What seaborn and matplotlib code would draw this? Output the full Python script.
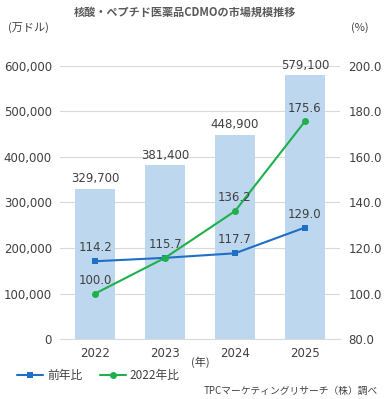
import matplotlib
matplotlib.use("Agg")
import matplotlib.pyplot as plt
import seaborn as sns
import pandas as pd

years = ["2022", "2023", "2024", "2025"]
market = [329700, 381400, 448900, 579100]
yoy = [114.2, 115.7, 117.7, 129.0]
vs2022 = [100.0, 115.7, 136.2, 175.6]

sns.set_style("white")
plt.rcParams['font.family'] = ['Noto Sans CJK JP', 'DejaVu Sans']

df = pd.DataFrame({"year": years, "market": market, "yoy": yoy, "vs2022": vs2022})

fig = plt.figure(figsize=(3.88, 3.99), dpi=100)
ax = fig.add_axes([0.155, 0.150, 0.721, 0.685])

sns.barplot(data=df, x="year", y="market", color="#bdd7ee", width=0.57,
            saturation=1, ax=ax, zorder=2, linewidth=0)
ax.set_ylim(0, 600000)
ax.set_yticks(range(0, 600001, 100000))
ax.set_yticklabels([f"{v:,}" for v in range(0, 600001, 100000)], family="DejaVu Sans")
ax.yaxis.grid(True, color="#d9d9d9", lw=0.8, zorder=0)
ax.set_axisbelow(True)
ax.set_xlabel("")
ax.set_ylabel("")
ax.tick_params(axis="both", length=0, labelsize=8.5, colors="#404040", pad=6)
for lab in ax.get_xticklabels():
    lab.set_family("DejaVu Sans")
for s in ["top", "right", "left"]:
    ax.spines[s].set_visible(False)
ax.spines["bottom"].set_color("#d9d9d9")
for i, v in enumerate(market):
    ax.text(i, v + 8000, f"{v:,}", ha="center", va="bottom", fontsize=8.5,
            color="#404040", family="DejaVu Sans")

ax2 = ax.twinx()
sns.lineplot(data=df, x="year", y="yoy", color="#1f6fc5", marker="s", markersize=5,
             markeredgewidth=0, lw=1.5, ax=ax2, label="前年比", zorder=3)
sns.lineplot(data=df, x="year", y="vs2022", color="#1db04b", marker="o", markersize=5,
             markeredgewidth=0, lw=1.5, ax=ax2, label="2022年比", zorder=3)
ax2.set_ylim(80, 200)
ax2.set_yticks(range(80, 201, 20))
ax2.set_yticklabels([f"{v:.1f}" for v in range(80, 201, 20)], family="DejaVu Sans")
ax2.set_ylabel("")
ax2.set_xlabel("")
ax2.tick_params(axis="y", length=0, labelsize=8.5, colors="#404040", pad=6)
for s in ["top", "right", "left", "bottom"]:
    ax2.spines[s].set_visible(False)
for i, v in enumerate(yoy):
    ax2.text(i, v + 3, f"{v:.1f}", ha="center", va="bottom", fontsize=8.5,
             color="#404040", family="DejaVu Sans")
for i, v in enumerate(vs2022):
    if i == 1:
        continue
    ax2.text(i, v + 3, f"{v:.1f}", ha="center", va="bottom", fontsize=8.5,
             color="#404040", family="DejaVu Sans")
ax.set_xlim(-0.5, 3.5)

handles, labels = ax2.get_legend_handles_labels()
ax2.get_legend().remove()
leg = fig.legend(handles, labels, loc="center left", bbox_to_anchor=(0.045, 0.058), ncol=2,
                 frameon=False, fontsize=8.5, handlelength=2.2, columnspacing=1.5,
                 handletextpad=0.3, borderaxespad=0, borderpad=0)
for t in leg.get_texts():
    t.set_color("#404040")

fig.text(0.477, 0.970, "核酸・ペプチド医薬品CDMOの市場規模推移", ha="center", va="center",
         fontsize=8, fontweight="bold", color="#595959")
fig.text(0.02, 0.932, "(万ドル)", ha="left", va="center", fontsize=8, color="#404040")
fig.text(0.928, 0.932, "(%)", ha="center", va="center", fontsize=8, color="#404040")
fig.text(0.515, 0.093, "(年)", ha="center", va="center", fontsize=8, color="#404040")
fig.text(0.975, 0.020, "TPCマーケティングリサーチ（株）調べ", ha="right", va="center",
         fontsize=7, color="#404040")

fig.savefig("out.png", dpi=100)
